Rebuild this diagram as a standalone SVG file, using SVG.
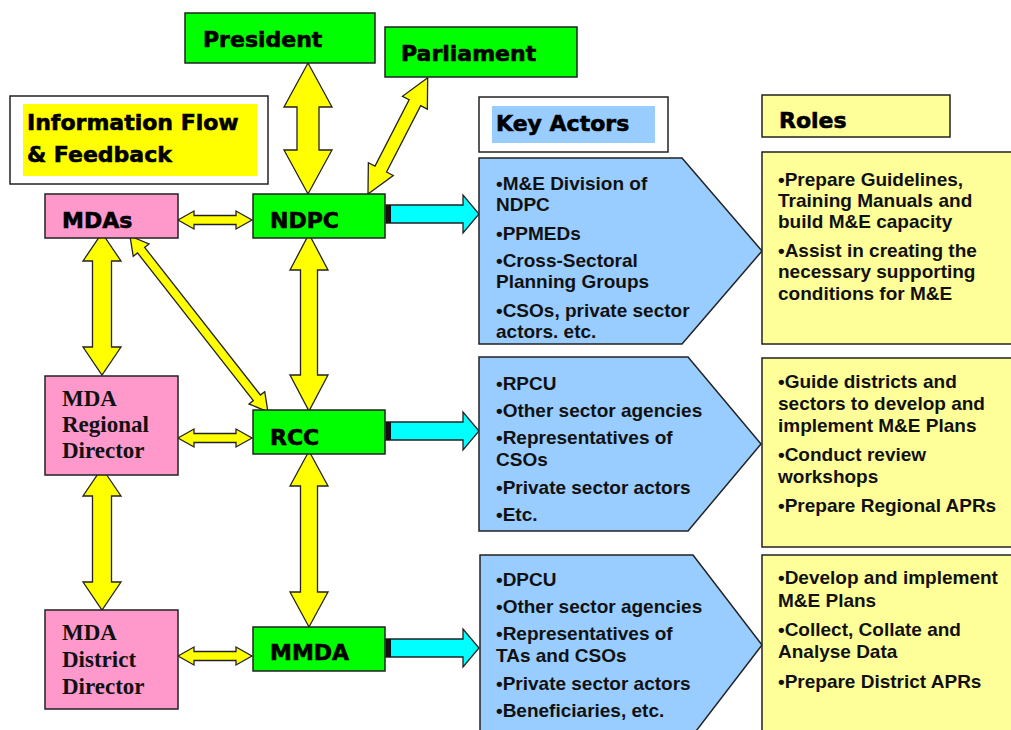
<svg xmlns="http://www.w3.org/2000/svg" width="1011" height="730" viewBox="0 0 1011 730">
<style>
.box{stroke:#222;stroke-width:1.5}
.green{fill:#00ff00}
.pink{fill:#ff99cc}
.blue{fill:#99ccff}
.lyel{fill:#ffff99}
.yarr{fill:#ffff00;stroke:#222;stroke-width:1.3;stroke-linejoin:miter}
.carr{fill:#00ffff;stroke:#222;stroke-width:1.3}
.title{font-family:"DejaVu Sans",sans-serif;font-weight:bold;font-size:22px;fill:#000;stroke:#000;stroke-width:0.6}
.serif{font-family:"Liberation Serif",serif;font-weight:bold;font-size:23px;fill:#111}
.body{font-family:"Liberation Sans",Arial,sans-serif;font-weight:bold;font-size:19px;fill:#111}
</style>
<defs>
<clipPath id="clipP1"><polygon points="479,158 682,158 762,251 682,343 479,343"/></clipPath>
</defs>
<rect width="1011" height="730" fill="#fff"/>

<g id="connectors">
<polygon class="yarr" points="308,63 332,107 319,107 319,150 332,150 308,194 284,150 297,150 297,107 284,107"/>
<polygon class="yarr" transform="translate(368,194) rotate(-62.8)" points="0,0 28,-14 28,-6.5 102.6,-6.5 102.6,-14 130.6,0 102.6,14 102.6,6.5 28,6.5 28,14"/>
<polygon class="yarr" points="178,220 194,211 194,215.5 236,215.5 236,211 252,220 236,229 236,224.5 194,224.5 194,229"/>
<polygon class="yarr" points="102,233 121,261 111.5,261 111.5,347 121,347 102,375 83,347 92.5,347 92.5,261 83,261"/>
<polygon class="yarr" transform="translate(130,236) rotate(51.9)" points="0,0 18,-10 18,-4.5 205.6,-4.5 205.6,-10 223.6,0 205.6,10 205.6,4.5 18,4.5 18,10"/>
<polygon class="yarr" points="309,234 328,270 317.5,270 317.5,375 328,375 309,411 290,375 300.5,375 300.5,270 290,270"/>
<polygon class="yarr" points="178,438 194,429 194,433.5 236,433.5 236,429 252,438 236,447 236,442.5 194,442.5 194,447"/>
<polygon class="yarr" points="102,468 121,496 111.5,496 111.5,582 121,582 102,610 83,582 92.5,582 92.5,496 83,496"/>
<polygon class="yarr" points="309,451 328,486 317.5,486 317.5,592 328,592 309,627 290,592 300.5,592 300.5,486 290,486"/>
<polygon class="yarr" points="178,656 194,647 194,651.5 236,651.5 236,647 252,656 236,665 236,660.5 194,660.5 194,665"/>
<polygon class="carr" points="386,205 463,205 463,195 479,214 463,233 463,223 386,223"/>
<rect x="386" y="205" width="5" height="18" fill="#111"/>
<polygon class="carr" points="386,422 463,422 463,412 479,431 463,450 463,440 386,440"/>
<rect x="386" y="422" width="5" height="18" fill="#111"/>
<polygon class="carr" points="386,639 463,639 463,629 479,648 463,667 463,657 386,657"/>
<rect x="386" y="639" width="5" height="18" fill="#111"/>
</g>

<g id="info-flow">
<rect class="box" x="10" y="96" width="258" height="88" fill="#fff"/>
<rect x="23" y="104" width="234" height="72" fill="#ffff00"/>
<text class="title" x="27" y="130">Information Flow</text>
<text class="title" x="27" y="162">&amp; Feedback</text>
</g>

<g id="president">
<rect class="box green" x="185" y="13" width="190" height="50"/>
<text class="title" x="203" y="47">President</text>
</g>
<g id="parliament">
<rect class="box green" x="385" y="27" width="192" height="50"/>
<text class="title" x="401" y="61">Parliament</text>
</g>

<g id="mdas">
<rect class="box pink" x="45" y="194" width="133" height="44"/>
<text class="title" x="62" y="228">MDAs</text>
</g>
<g id="ndpc">
<rect class="box green" x="253" y="194" width="132" height="44"/>
<text class="title" x="270" y="228">NDPC</text>
</g>
<g id="mda-regional">
<rect class="box pink" x="45" y="376" width="133" height="99"/>
<text class="serif" x="62" y="406">MDA</text>
<text class="serif" x="62" y="432">Regional</text>
<text class="serif" x="62" y="458">Director</text>
</g>
<g id="rcc">
<rect class="box green" x="253" y="410" width="132" height="44"/>
<text class="title" x="270" y="445">RCC</text>
</g>
<g id="mda-district">
<rect class="box pink" x="45" y="610" width="133" height="99"/>
<text class="serif" x="62" y="640">MDA</text>
<text class="serif" x="62" y="667">District</text>
<text class="serif" x="62" y="694">Director</text>
</g>
<g id="mmda">
<rect class="box green" x="253" y="627" width="132" height="44"/>
<text class="title" x="270" y="660">MMDA</text>
</g>

<g id="key-actors-header">
<rect class="box" x="479" y="97" width="189" height="55" fill="#fff"/>
<rect class="blue" x="492" y="106" width="163" height="37"/>
<text class="title" x="496" y="131">Key Actors</text>
</g>
<g id="roles-header">
<rect class="box lyel" x="762" y="95" width="188" height="42"/>
<text class="title" x="779" y="128">Roles</text>
</g>

<g id="actors-national">
<polygon class="box blue" points="479,158 682,158 762,251 682,344 479,344"/>
<g clip-path="url(#clipP1)">
<text class="body" x="496" y="190">•M&amp;E Division of</text>
<text class="body" x="496" y="211">NDPC</text>
<text class="body" x="496" y="240">•PPMEDs</text>
<text class="body" x="496" y="267">•Cross-Sectoral</text>
<text class="body" x="496" y="288">Planning Groups</text>
<text class="body" x="496" y="317">•CSOs, private sector</text>
<text class="body" x="496" y="338">actors. etc.</text>
</g>
</g>
<g id="actors-regional">
<polygon class="box blue" points="479,357 688,357 761,444 688,531 479,531"/>
<text class="body" x="496" y="390">•RPCU</text>
<text class="body" x="496" y="417">•Other sector agencies</text>
<text class="body" x="496" y="444">•Representatives of</text>
<text class="body" x="496" y="466">CSOs</text>
<text class="body" x="496" y="494">•Private sector actors</text>
<text class="body" x="496" y="521">•Etc.</text>
</g>
<g id="actors-district">
<polygon class="box blue" points="480,555 693,555 762,645 693,735 480,735"/>
<text class="body" x="496" y="586">•DPCU</text>
<text class="body" x="496" y="613">•Other sector agencies</text>
<text class="body" x="496" y="640">•Representatives of</text>
<text class="body" x="496" y="662">TAs and CSOs</text>
<text class="body" x="496" y="690">•Private sector actors</text>
<text class="body" x="496" y="717">•Beneficiaries, etc.</text>
</g>

<g id="roles-national">
<rect class="box lyel" x="762" y="152" width="260" height="192"/>
<text class="body" x="778" y="186">•Prepare Guidelines,</text>
<text class="body" x="778" y="207">Training Manuals and</text>
<text class="body" x="778" y="228">build M&amp;E capacity</text>
<text class="body" x="778" y="257">•Assist in creating the</text>
<text class="body" x="778" y="278">necessary supporting</text>
<text class="body" x="778" y="300">conditions for M&amp;E</text>
</g>
<g id="roles-regional">
<rect class="box lyel" x="762" y="358" width="260" height="189"/>
<text class="body" x="778" y="388">•Guide districts and</text>
<text class="body" x="778" y="410">sectors to develop and</text>
<text class="body" x="778" y="432">implement M&amp;E Plans</text>
<text class="body" x="778" y="461">•Conduct review</text>
<text class="body" x="778" y="483">workshops</text>
<text class="body" x="778" y="512">•Prepare Regional APRs</text>
</g>
<g id="roles-district">
<rect class="box lyel" x="762" y="555" width="260" height="185"/>
<text class="body" x="778" y="584">•Develop and implement</text>
<text class="body" x="778" y="607">M&amp;E Plans</text>
<text class="body" x="778" y="636">•Collect, Collate and</text>
<text class="body" x="778" y="658">Analyse Data</text>
<text class="body" x="778" y="688">•Prepare District APRs</text>
</g>
</svg>
